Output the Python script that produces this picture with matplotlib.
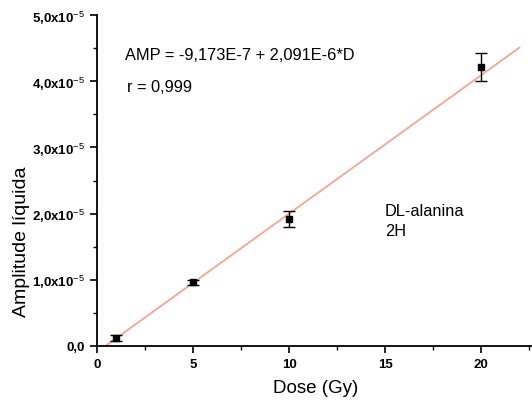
import numpy as np
import matplotlib
matplotlib.use("Agg")
import matplotlib.pyplot as plt
from matplotlib.ticker import MultipleLocator, FixedLocator

plt.rcParams['font.family'] = ['Liberation Sans', 'DejaVu Sans']
plt.rcParams['mathtext.fontset'] = 'custom'
plt.rcParams['mathtext.rm'] = 'Liberation Sans'
plt.rcParams['mathtext.bf'] = 'Liberation Sans:bold'

# Dose (Gy) and net amplitude (units of 1e-5)
dose = [1, 5, 10, 20]
amplitude = [0.12, 0.96, 1.92, 4.21]
amp_err = [0.05, 0.04, 0.12, 0.21]

# Linear fit parameters, same units as amplitude
fit_intercept = -0.09173
fit_slope = 0.2091

y_ticks = [0, 1, 2, 3, 4, 5]
y_tick_labels = ['0,0', r'1,0x10$^{-5}$', r'2,0x10$^{-5}$', r'3,0x10$^{-5}$',
                 r'4,0x10$^{-5}$', r'5,0x10$^{-5}$']
x_ticks = [0, 5, 10, 15, 20]

fig = plt.figure(figsize=(5.32, 4.06), dpi=100)
ax = fig.add_axes([97/532, 1-347/406, (531-97)/532, (347-16)/406])

# fitted line
x0 = -fit_intercept / fit_slope
xf = np.array([x0, 22.0])
ax.plot(xf, fit_intercept + fit_slope*xf, color='#f3a596', lw=1.3, zorder=2)

ax.errorbar(dose, amplitude, yerr=amp_err, fmt='s', color='black', ms=5,
            ecolor='black', elinewidth=1, capsize=4, capthick=1, zorder=3)

ax.set_xlim(0, 22.6)
ax.set_ylim(0, 5.0)
ax.spines['top'].set_visible(False)
ax.spines['right'].set_visible(False)
for s in ('left', 'bottom'):
    ax.spines[s].set_linewidth(1.3)

ax.xaxis.set_major_locator(FixedLocator(x_ticks))
ax.xaxis.set_minor_locator(MultipleLocator(2.5))
ax.yaxis.set_major_locator(FixedLocator(y_ticks))
ax.yaxis.set_minor_locator(MultipleLocator(0.5))
ax.set_yticklabels(y_tick_labels)
ax.tick_params(axis='both', which='major', direction='out', length=5, width=1.2,
               labelsize=9.5)
ax.tick_params(axis='both', which='minor', direction='out', length=3, width=1)
for lab in ax.get_xticklabels() + ax.get_yticklabels():
    lab.set_fontweight('bold')

fig.text(316/532, 1-389/406, 'Dose (Gy)', fontsize=13.5, va='center', ha='center')
fig.text(22/532, 1-242/406, 'Amplitude líquida', fontsize=14, va='center',
         ha='center', rotation=90)

fig.text(125/532, 1-55/406, 'AMP = -9,173E-7 + 2,091E-6*D', fontsize=11.8,
         va='center', ha='left')
fig.text(127/532, 1-88/406, 'r = 0,999', fontsize=11.8, va='center', ha='left')
fig.text(385/532, 1-212/406, 'DL-alanina', fontsize=11.8, va='center', ha='left')
fig.text(385/532, 1-232/406, '2H', fontsize=11.8, va='center', ha='left')

fig.savefig('out.png', dpi=100)
